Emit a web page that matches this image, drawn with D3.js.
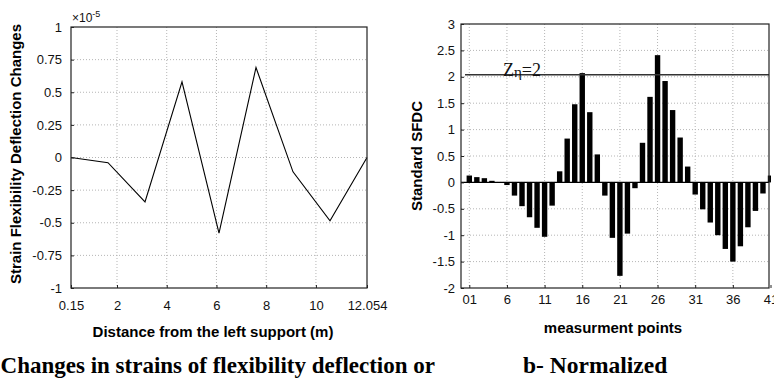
<!DOCTYPE html>
<html>
<head>
<meta charset="utf-8">
<script src="https://cdn.jsdelivr.net/npm/d3@7"></script>
<style>
    body { margin: 0; background: #fff; }
    svg { display: block; }
    .tick text { font-family: "Liberation Sans", Arial, sans-serif; font-size: 13px; fill: #111; }
</style>
</head>
<body>
<svg width="774" height="380"></svg>
<script>
// left panel: strain flexibility deflection changes (x 1e-5) along the beam
let distance = [0.15, 1.638, 3.126, 4.614, 6.102, 7.59, 9.078, 10.566, 12.054];
let deflectionChange = [0, -0.04, -0.34, 0.58, -0.58, 0.69, -0.11, -0.485, 0];
let leftXTicks = [0.15, 2, 4, 6, 8, 10, 12.054];
let leftYTicks = [-1, -0.75, -0.5, -0.25, 0, 0.25, 0.5, 0.75, 1];

// right panel: standard SFDC at each measurement point
let points = d3.range(1, 42);
let standardSfdc = [0.13, 0.10, 0.08, 0.03, 0.00, -0.05, -0.25, -0.45, -0.66, -0.86,
    -1.03, -0.44, 0.21, 0.83, 1.48, 2.07, 1.33, 0.53, -0.25, -1.05,
    -1.77, -0.97, -0.11, 0.75, 1.62, 2.41, 1.92, 1.37, 0.85, 0.30,
    -0.23, -0.51, -0.76, -1.00, -1.26, -1.50, -1.21, -0.85, -0.54, -0.21,
    0.13];
let rightXTicks = [1, 6, 11, 16, 21, 26, 31, 36, 41];
let rightXLabels = ["01", "6", "11", "16", "21", "26", "31", "36", "41"];
let rightYTicks = [-2, -1.5, -1, -0.5, 0, 0.5, 1, 1.5, 2, 2.5, 3];
let threshold = 2.04;

let svg = d3.select("svg");
let sans = "'Liberation Sans', Arial, sans-serif";
let serif = "'Liberation Serif', 'Times New Roman', serif";

function drawGrid(g, x, y, xs, ys, box) {
    g.selectAll(".vgrid").data(xs).enter().append("line")
        .attr("x1", d => x(d)).attr("x2", d => x(d))
        .attr("y1", box.top).attr("y2", box.bottom)
        .attr("stroke", "#b5b5b5").attr("stroke-dasharray", "1,2");
    g.selectAll(".hgrid").data(ys).enter().append("line")
        .attr("x1", box.left).attr("x2", box.right)
        .attr("y1", d => y(d)).attr("y2", d => y(d))
        .attr("stroke", "#b5b5b5").attr("stroke-dasharray", "1,2");
}

function drawFrame(g, box) {
    g.append("rect")
        .attr("x", box.left).attr("y", box.top)
        .attr("width", box.right - box.left).attr("height", box.bottom - box.top)
        .attr("fill", "none").attr("stroke", "#222").attr("stroke-width", 1.2);
}

// ---------- left panel ----------
let boxA = {left: 71, right: 367, top: 27, bottom: 288};
let xA = d3.scaleLinear().domain([0.15, 12.054]).range([boxA.left, boxA.right]);
let yA = d3.scaleLinear().domain([-1, 1]).range([boxA.bottom, boxA.top]);
let gA = svg.append("g");

drawGrid(gA, xA, yA, leftXTicks.slice(1, -1), leftYTicks.slice(1, -1), boxA);

gA.append("path")
    .attr("fill", "none")
    .attr("stroke", "#000")
    .attr("stroke-width", 1.1)
    .attr("stroke-linejoin", "miter")
    .attr("d", d3.line()
        .x((d, i) => xA(distance[i]))
        .y(d => yA(d))(deflectionChange));

drawFrame(gA, boxA);

gA.append("g")
    .attr("transform", "translate(0," + boxA.bottom + ")")
    .call(d3.axisBottom(xA).tickValues(leftXTicks).tickFormat(d => String(d))
        .tickSizeInner(-3).tickSizeOuter(0).tickPadding(13))
    .call(a => a.select(".domain").remove());

gA.append("g")
    .attr("transform", "translate(" + boxA.left + ",0)")
    .call(d3.axisLeft(yA).tickValues(leftYTicks).tickFormat(d => String(d))
        .tickSizeInner(-3).tickSizeOuter(0).tickPadding(9))
    .call(a => a.select(".domain").remove());

gA.selectAll(".tick line").attr("stroke", "#222");

let expo = gA.append("text")
    .attr("x", 72).attr("y", 22)
    .attr("font-family", sans).attr("font-size", 12).attr("fill", "#111");
expo.append("tspan").text("×10");
expo.append("tspan").attr("dy", -5).attr("font-size", 9).text("-5");

gA.append("text")
    .attr("transform", "translate(21,154) rotate(-90)")
    .attr("text-anchor", "middle")
    .attr("font-family", sans).attr("font-size", 15).attr("font-weight", "bold")
    .text("Strain Flexibility Deflection Changes");

gA.append("text")
    .attr("x", 213).attr("y", 337)
    .attr("text-anchor", "middle")
    .attr("font-family", sans).attr("font-size", 15).attr("font-weight", "bold")
    .text("Distance from the left support (m)");

gA.append("text")
    .attr("x", 435).attr("y", 373)
    .attr("text-anchor", "end")
    .attr("font-family", serif).attr("font-size", 23).attr("font-weight", "bold")
    .text("a- Changes in strains of flexibility deflection or");

// ---------- right panel ----------
let boxB = {left: 461, right: 769, top: 24, bottom: 288};
let xB = d3.scaleLinear().domain([1, 41]).range([469.3, 770.5]);
let yB = d3.scaleLinear().domain([-2, 3]).range([boxB.bottom, boxB.top]);
let barW = 5.4;
let gB = svg.append("g");

drawGrid(gB, xB, yB, rightXTicks.slice(0, -1), rightYTicks.slice(1, -1), boxB);

gB.append("clipPath").attr("id", "clipB")
    .append("rect").attr("x", boxB.left).attr("y", 0)
    .attr("width", boxB.right - boxB.left + 2).attr("height", 380);

gB.append("g").attr("clip-path", "url(#clipB)")
    .selectAll("rect")
    .data(standardSfdc)
    .enter()
    .append("rect")
    .attr("x", (d, i) => xB(points[i]) - barW / 2)
    .attr("y", d => yB(Math.max(0, d)))
    .attr("width", barW)
    .attr("height", d => Math.abs(yB(d) - yB(0)))
    .attr("fill", "#000");

gB.append("line")
    .attr("x1", boxB.left).attr("x2", boxB.right)
    .attr("y1", yB(0)).attr("y2", yB(0))
    .attr("stroke", "#000").attr("stroke-width", 1.2);

gB.append("line")
    .attr("x1", boxB.left + 4).attr("x2", boxB.right)
    .attr("y1", yB(threshold)).attr("y2", yB(threshold))
    .attr("stroke", "#333").attr("stroke-width", 1.5);

let zLabel = gB.append("text")
    .attr("x", 503).attr("y", yB(threshold) + 1.5)
    .attr("font-family", serif).attr("font-size", 18).attr("fill", "#111");
zLabel.append("tspan").text("Z");
zLabel.append("tspan").attr("font-size", 15).attr("dy", 1).text("η");
zLabel.append("tspan").attr("dy", -1).text("=2");

drawFrame(gB, boxB);

gB.append("g")
    .attr("transform", "translate(0," + boxB.bottom + ")")
    .call(d3.axisBottom(xB).tickValues(rightXTicks).tickFormat((d, i) => rightXLabels[i])
        .tickSizeInner(-3).tickSizeOuter(0).tickPadding(7))
    .call(a => a.select(".domain").remove());

gB.append("g")
    .attr("transform", "translate(" + boxB.left + ",0)")
    .call(d3.axisLeft(yB).tickValues(rightYTicks).tickFormat(d => String(d))
        .tickSizeInner(-3).tickSizeOuter(0).tickPadding(6))
    .call(a => a.select(".domain").remove());

gB.selectAll(".tick line").attr("stroke", "#222");

gB.append("text")
    .attr("transform", "translate(422,156) rotate(-90)")
    .attr("text-anchor", "middle")
    .attr("font-family", sans).attr("font-size", 15).attr("font-weight", "bold")
    .text("Standard SFDC");

gB.append("text")
    .attr("x", 613).attr("y", 333)
    .attr("text-anchor", "middle")
    .attr("font-family", sans).attr("font-size", 15).attr("font-weight", "bold")
    .text("measurment points");

gB.append("text")
    .attr("x", 523).attr("y", 373)
    .attr("font-family", serif).attr("font-size", 23.5).attr("font-weight", "bold")
    .text("b- Normalized");
</script>
</body>
</html>
